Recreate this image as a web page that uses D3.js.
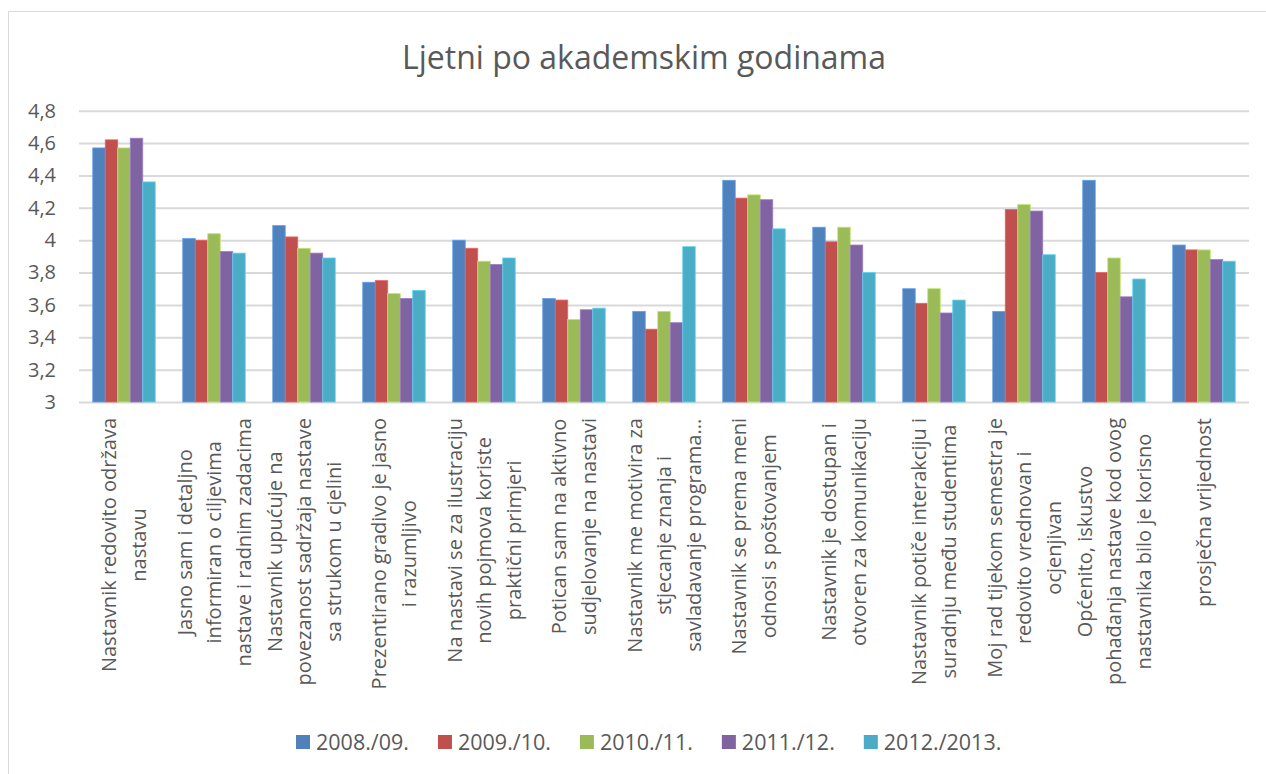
<!DOCTYPE html>
<html>
<head>
<meta charset="utf-8">
<script src="https://cdn.jsdelivr.net/npm/d3@7"></script>
<style>
  html, body { margin: 0; padding: 0; background: #fff; }
  svg { display: block; font-family: "Open Sans", sans-serif; }
</style>
</head>
<body>
<svg></svg>
<script>
const width = 1266;
const height = 774;

/* -------------------------
   DATA
--------------------------*/
const categories = [
  ["Nastavnik redovito održava", "nastavu"],
  ["Jasno sam i detaljno", "informiran o ciljevima", "nastave i radnim zadacima"],
  ["Nastavnik upućuje na", "povezanost sadržaja nastave", "sa strukom u cjelini"],
  ["Prezentirano gradivo je jasno", "i razumljivo"],
  ["Na nastavi se za ilustraciju", "novih pojmova koriste", "praktični primjeri"],
  ["Potican sam na aktivno", "sudjelovanje na nastavi"],
  ["Nastavnik me motivira za", "stjecanje znanja i", "savladavanje programa..."],
  ["Nastavnik se prema meni", "odnosi s poštovanjem"],
  ["Nastavnik je dostupan i", "otvoren za komunikaciju"],
  ["Nastavnik potiče interakciju i", "suradnju među studentima"],
  ["Moj rad tijekom semestra je", "redovito vrednovan i", "ocjenjivan"],
  ["Općenito, iskustvo", "pohađanja nastave kod ovog", "nastavnika bilo je korisno"],
  ["prosječna vrijednost"]
];

const seriesNames = ["2008./09.", "2009./10.", "2010./11.", "2011./12.", "2012./2013."];

const v2008 = [4.57, 4.01, 4.09, 3.74, 4.00, 3.64, 3.56, 4.37, 4.08, 3.70, 3.56, 4.37, 3.97];
const v2009 = [4.62, 4.00, 4.02, 3.75, 3.95, 3.63, 3.45, 4.26, 3.99, 3.61, 4.19, 3.80, 3.94];
const v2010 = [4.57, 4.04, 3.95, 3.67, 3.87, 3.51, 3.56, 4.28, 4.08, 3.70, 4.22, 3.89, 3.94];
const v2011 = [4.63, 3.93, 3.92, 3.64, 3.85, 3.57, 3.49, 4.25, 3.97, 3.55, 4.18, 3.65, 3.88];
const v2012 = [4.36, 3.92, 3.89, 3.69, 3.89, 3.58, 3.96, 4.07, 3.80, 3.63, 3.91, 3.76, 3.87];

const seriesValues = [v2008, v2009, v2010, v2011, v2012];
const yTicks = [3, 3.2, 3.4, 3.6, 3.8, 4, 4.2, 4.4, 4.6, 4.8];

const COLORS = ["#4F81BD", "#C0504D", "#9BBB59", "#8064A2", "#4BACC6"];
const TEXT = "#595959";
const GRID = "#d9d9d9";

/* -------------------------
   SVG
--------------------------*/
const svg = d3.select("svg")
  .attr("width", width)
  .attr("height", height);

// chart border
svg.append("rect")
  .attr("x", 8.5)
  .attr("y", 11.5)
  .attr("width", width + 20)
  .attr("height", height + 20)
  .attr("fill", "none")
  .attr("stroke", GRID)
  .attr("stroke-width", 1);

svg.append("text")
  .attr("x", 644)
  .attr("y", 69)
  .attr("text-anchor", "middle")
  .style("fill", TEXT)
  .style("font-size", "32px")
  .text("Ljetni po akademskim godinama");

/* -------------------------
   SCALES
--------------------------*/
const plot = { left: 79, right: 1249, top: 110.7, bottom: 402 };

const x0 = d3.scaleBand()
  .domain(d3.range(categories.length))
  .range([plot.left, plot.right]);

const x1 = d3.scaleBand()
  .domain(d3.range(seriesNames.length))
  .range([0, x0.bandwidth()])
  .paddingOuter(1.1);

const y = d3.scaleLinear()
  .domain([3, 4.8])
  .range([plot.bottom, plot.top]);

/* -------------------------
   GRID + Y AXIS
--------------------------*/
const yAxis = svg.append("g")
  .attr("transform", `translate(${plot.left},0)`)
  .call(d3.axisLeft(y)
    .tickValues(yTicks)
    .tickSize(-(plot.right - plot.left))
    .tickPadding(23)
    .tickFormat(d => String(+d.toFixed(1)).replace(".", ",")));

yAxis.select(".domain").remove();
yAxis.selectAll(".tick line")
  .attr("stroke", GRID)
  .attr("stroke-width", 2);
yAxis.selectAll(".tick text")
  .style("fill", TEXT)
  .style("font-size", "20px")
  .style("font-family", "Open Sans, sans-serif");

/* -------------------------
   BARS
--------------------------*/
const groups = svg.append("g")
  .selectAll("g")
  .data(categories)
  .enter()
  .append("g")
  .attr("transform", (d, i) => `translate(${x0(i)},0)`);

groups.selectAll("rect")
  .data((d, i) => seriesValues.map((vals, s) => ({ s, v: vals[i] })))
  .enter()
  .append("rect")
  .attr("x", d => x1(d.s))
  .attr("y", d => y(d.v))
  .attr("width", x1.bandwidth())
  .attr("height", d => y(3) - y(d.v))
  .attr("fill", d => COLORS[d.s])
  .attr("stroke", d => d3.color(COLORS[d.s]).brighter(0.6))
  .attr("stroke-width", 0.8);

/* -------------------------
   CATEGORY LABELS
--------------------------*/
const LINE_H = 29.5;
const LABEL_TOP = 418;

categories.forEach((lines, i) => {
  const cx = x0(i) + x0.bandwidth() / 2;
  const g = svg.append("g")
    .attr("transform", `translate(${cx},${LABEL_TOP}) rotate(-90)`);

  const texts = g.selectAll("text")
    .data(lines)
    .enter()
    .append("text")
    .attr("text-anchor", "middle")
    .attr("y", (d, k) => (k - (lines.length - 1) / 2) * LINE_H + 7)
    .style("fill", TEXT)
    .style("font-size", "20px")
    .text(d => d);

  let maxLen = 0;
  texts.each(function () { maxLen = Math.max(maxLen, this.getComputedTextLength()); });
  texts.attr("x", -maxLen / 2);
});

/* -------------------------
   LEGEND
--------------------------*/
const legend = svg.append("g")
  .attr("transform", "translate(296,742)");

let lx = 0;
seriesNames.forEach((name, s) => {
  const item = legend.append("g").attr("transform", `translate(${lx},0)`);
  item.append("rect")
    .attr("x", 0)
    .attr("y", -7)
    .attr("width", 14)
    .attr("height", 14)
    .attr("fill", COLORS[s]);
  const t = item.append("text")
    .attr("x", 20)
    .attr("y", 7.5)
    .style("fill", TEXT)
    .style("font-size", "21.5px")
    .text(name);
  lx += 20 + t.node().getComputedTextLength() + 29;
});
</script>
</body>
</html>
